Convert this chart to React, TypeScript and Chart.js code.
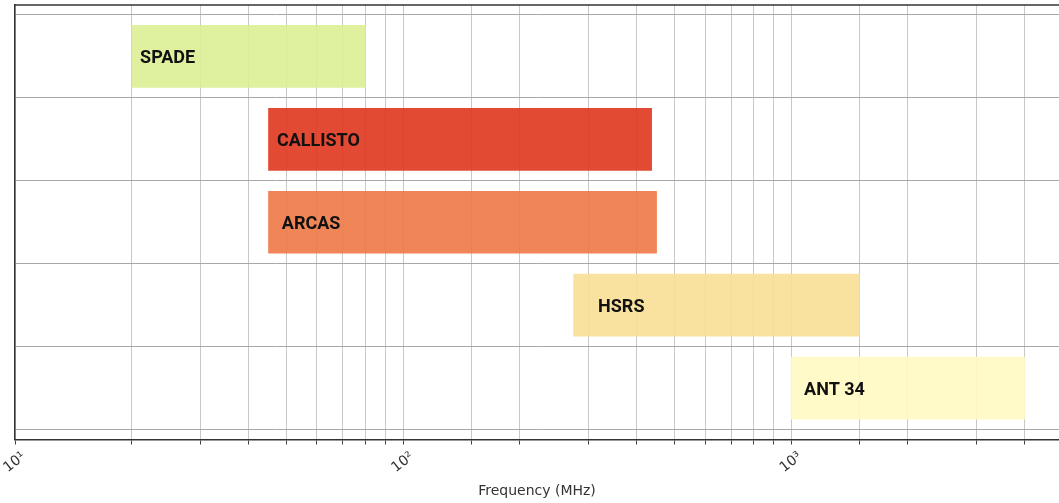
import React, { useEffect, useRef } from "react";
import { Chart, registerables } from "chart.js";

Chart.register(...registerables);

const instruments = ["SPADE", "CALLISTO", "ARCAS", "HSRS", "ANT 34"];
const freqStart = [20, 45, 45, 275, 1000];
const freqEnd = [80, 437, 450, 1500, 4000];
const labelAt = [21, 47.3, 48.7, 318, 1080];
const barColors = [
  "rgba(220,238,149,0.9)",
  "rgba(223,54,29,0.9)",
  "rgba(238,120,69,0.9)",
  "rgba(248,222,149,0.9)",
  "rgba(255,249,194,0.9)",
];
const rowBoundaries = [-0.5, 0.5, 1.5, 2.5, 3.5, 4.5];
const xMin = 10;
const xMax = 4900;
const sup: Record<number, string> = { 0: "⁰", 1: "¹", 2: "²", 3: "³", 4: "⁴" };

export default function App() {
  const ref = useRef<HTMLCanvasElement | null>(null);

  useEffect(() => {
    if (!ref.current) return;
    const labelPlugin = {
      id: "barLabels",
      afterDatasetsDraw(chart: any) {
        const ctx = chart.ctx;
        const meta = chart.getDatasetMeta(0);
        const xs = chart.scales.x;
        ctx.save();
        ctx.font = "bold 18px Roboto";
        ctx.fillStyle = "#111";
        ctx.textAlign = "left";
        ctx.textBaseline = "middle";
        meta.data.forEach((el: any, i: number) => {
          ctx.fillText(instruments[i], xs.getPixelForValue(labelAt[i]), el.y + 2);
        });
        ctx.restore();
      },
      afterDraw(chart: any) {
        const { ctx, chartArea } = chart;
        ctx.save();
        ctx.strokeStyle = "#333";
        ctx.lineWidth = 1.5;
        ctx.beginPath();
        ctx.moveTo(chartArea.left, chartArea.top);
        ctx.lineTo(chartArea.right, chartArea.top);
        ctx.stroke();
        ctx.restore();
      },
    };

    const chart = new Chart(ref.current, {
      type: "bar",
      data: {
        datasets: [
          {
            data: instruments.map((_, i) => ({ x: [freqStart[i], freqEnd[i]], y: i })) as any,
            backgroundColor: barColors,
            borderWidth: 0,
            barThickness: 62,
          },
        ],
      },
      options: {
        indexAxis: "y",
        animation: false,
        responsive: true,
        maintainAspectRatio: false,
        layout: { padding: { top: 5, left: 15, right: 0, bottom: 3 } },
        plugins: { legend: { display: false }, tooltip: { enabled: false } },
        scales: {
          x: {
            type: "logarithmic",
            min: xMin,
            max: xMax,
            afterFit: (scale: any) => {
              scale.paddingRight = 0;
              scale.paddingLeft = 0;
            },
            grid: { color: "#c8c8c8", lineWidth: 1, tickColor: "#444", tickLength: 5 },
            border: { color: "#333", width: 1.5 },
            ticks: {
              autoSkip: false,
              minRotation: 38,
              maxRotation: 38,
              color: "#333",
              font: { family: "DejaVu Sans", size: 14 },
              padding: 4,
              labelOffset: 9,
              callback: (value: any) => {
                const l = Math.log10(Number(value));
                const r = Math.round(l);
                if (Math.abs(l - r) < 1e-9) return "10" + sup[r];
                return "";
              },
            },
            title: {
              display: true,
              text: "Frequency (MHz)",
              color: "#333",
              font: { family: "DejaVu Sans", size: 14 },
              padding: { top: 3, bottom: 0 },
            },
          },
          y: {
            type: "linear",
            reverse: true,
            min: -0.62,
            max: 4.62,
            offset: false,
            afterBuildTicks: (scale: any) => {
              scale.ticks = rowBoundaries.map((v) => ({ value: v }));
            },
            grid: { color: "#a8a8a8", lineWidth: 1, drawTicks: false, offset: false },
            border: { color: "#333", width: 1.5 },
            ticks: { display: false },
          },
        },
      },
      plugins: [labelPlugin],
    });
    return () => chart.destroy();
  }, []);

  return (
    <div style={{ position: "absolute", left: 0, top: 0, width: 1059, height: 503 }}>
      <canvas ref={ref} />
    </div>
  );
}
